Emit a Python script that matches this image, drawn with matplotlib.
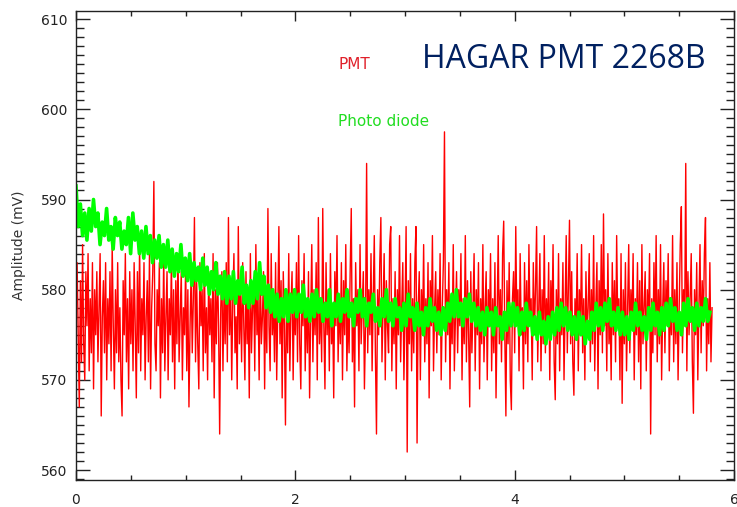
import numpy as np
import matplotlib
matplotlib.use("Agg")
import matplotlib.pyplot as plt
from matplotlib.ticker import MultipleLocator

# sample axis
t_start, t_end = 0.0, 5.8

# PMT amplitude (mV)
pmt = [
    578, 583, 575, 567, 581, 572, 585, 574, 570, 582,
    576, 584, 571, 579, 573, 583, 569, 580, 575, 582,
    572, 578, 584, 566, 577, 581, 573, 583, 570, 579,
    574, 582, 571, 585, 576, 569, 580, 573, 583, 572,
    578, 570, 566, 581, 575, 584, 572, 579, 569, 582,
    574, 580, 571, 583, 576, 568, 582, 573, 585, 571,
    579, 575, 583, 570, 577, 581, 572, 584, 569, 578,
    582, 592, 574, 571, 580, 576, 583, 568, 579, 573,
    584, 571, 577, 582, 570, 579, 575, 583, 572, 580,
    569, 581, 574, 584, 572, 577, 582, 570, 578, 575,
    583, 571, 580, 567, 576, 582, 573, 579, 588, 572,
    581, 574, 569, 583, 576, 580, 571, 584, 573, 578,
    570, 582, 575, 579, 572, 584, 568, 580, 574, 583,
    576, 564, 578, 582, 571, 580, 574, 583, 572, 588,
    575, 581, 570, 579, 584, 573, 577, 569, 587, 574,
    580, 572, 583, 576, 570, 582, 574, 579, 568, 584,
    573, 578, 581, 571, 585, 575, 579, 570, 583, 574,
    577, 582, 569, 580, 573, 589, 576, 571, 584, 575,
    579, 572, 583, 570, 578, 587, 574, 581, 568, 582,
    576, 565, 580, 573, 584, 571, 578, 582, 570, 579,
    575, 583, 572, 586, 574, 569, 581, 576, 584, 571,
    579, 573, 582, 568, 577, 585, 572, 580, 575, 583,
    570, 588, 574, 579, 572, 589, 576, 569, 583, 575,
    580, 571, 584, 574, 578, 568, 582, 576, 586, 572,
    579, 574, 583, 570, 581, 575, 585, 571, 578, 573,
    582, 589, 572, 579, 567, 583, 576, 580, 571, 585,
    574, 578, 582, 569, 576, 594, 573, 580, 575, 584,
    571, 579, 586, 573, 564, 580, 575, 583, 588, 572,
    578, 584, 570, 581, 576, 573, 585, 587, 571, 579,
    574, 582, 569, 580, 575, 586, 572, 578, 583, 570,
    577, 587, 562, 581, 574, 584, 571, 579, 573, 583,
    587, 563, 578, 582, 570, 580, 575, 585, 572, 579,
    574, 583, 568, 581, 576, 586, 571, 578, 582, 573,
    580, 575, 584, 570, 578, 583, 597.5, 572, 580, 575,
    583, 569, 579, 574, 585, 571, 577, 582, 573, 580,
    576, 584, 570, 579, 574, 586, 572, 581, 575, 567,
    582, 573, 578, 584, 571, 580, 575, 583, 569, 579,
    574, 585, 572, 578, 582, 570, 580, 576, 584, 571,
    579, 573, 583, 568, 577, 586, 574, 580, 572, 584,
    587.6, 575, 566, 581, 574, 583, 570, 566.7, 579, 582,
    573, 587, 576, 580, 571, 584, 575, 578, 569, 583,
    574, 581, 572, 585, 576, 579, 570, 583, 575, 580,
    587, 572, 578, 584, 571, 580, 574, 586, 573, 579,
    575, 583, 570, 581, 576, 585, 572, 567.8, 580, 574,
    584, 571, 579, 575, 583, 570, 578, 586, 573, 580,
    587.7, 574, 582, 572, 568.3, 579, 575, 584, 571, 580,
    576, 585, 573, 579, 570, 582, 575, 578, 584, 572,
    580, 574, 586, 571, 578, 583, 569, 581, 575, 585,
    573, 588.4, 576, 580, 571, 584, 574, 578, 570, 583,
    575, 581, 572, 586, 576, 579, 570, 584, 567.4, 580,
    574, 583, 571, 578, 585, 573, 580, 576, 584, 570,
    579, 575, 583, 572, 581, 569, 585, 574, 578, 582,
    571, 580, 576, 584, 564, 579, 573, 583, 575, 586,
    572, 580, 574, 585, 570, 578, 583, 573, 581, 576,
    584, 571, 579, 575, 586, 572, 580, 574, 583, 570,
    578, 585, 589.2, 573, 580, 576, 594, 571, 582, 575,
    579, 584, 572, 566.3, 580, 575, 583, 570, 578, 585,
    573, 581, 576, 584, 588, 571, 579, 574, 583, 572,
    578,
]

# photo diode amplitude (mV)
diode = [
    591.5, 587, 589.5, 586, 588.5, 585.5, 589, 586.5, 590, 587,
    588.5, 585, 587.5, 586, 589, 585.5, 587, 584.5, 588, 586,
    587.5, 584.5, 586.5, 585, 588, 584, 588.5, 585.5, 587, 584,
    586.5, 583.5, 587, 584, 586, 583, 585.5, 583.5, 586, 582.5,
    585, 582.5, 585.5, 582, 584.5, 581.5, 584, 582, 585, 581.5,
    583.5, 581, 584, 580.5, 583, 581, 582.5, 580, 583.5, 580.5,
    582.5, 579.5, 582, 580, 583, 579.5, 581.5, 579, 582, 578.5,
    581.5, 579, 582, 578.5, 581, 579.5, 582.5, 578.5, 580.5, 578,
    581, 578.5, 582, 579, 583, 579.5, 581.5, 578, 580.5, 577.5,
    580, 577, 579.5, 576.5, 579, 577, 580, 576.5, 579.5, 577.5,
    580, 577, 579.5, 577.5, 580.5, 577, 579, 576.5, 579.5, 577,
    580, 577.5, 579, 576.5, 578.5, 577, 580, 576, 578.5, 577,
    579.5, 576.5, 579, 577.5, 580, 577, 578.5, 576, 579, 577.5,
    580, 577, 579, 576, 578.5, 577.5, 579.5, 576.5, 578, 576,
    579, 577, 580, 576.5, 578.5, 576, 579, 577, 578, 575.5,
    578.5, 576, 579.5, 577, 578, 575.5, 578.5, 576, 577.5, 575,
    578, 576, 579, 576.5, 578, 575.5, 577.5, 575, 578, 575.5,
    578.5, 576.5, 579.5, 577, 580, 577, 578.5, 576, 579, 577,
    579.5, 576.5, 578.5, 576, 578, 575.5, 577.5, 575, 578, 576,
    577.5, 575, 578, 576, 577, 574.5, 577.5, 575.5, 578.5, 576,
    578.5, 576, 578, 575, 577.5, 575.5, 578.5, 576, 577.5, 575,
    577, 574.5, 577.5, 575, 576.5, 574, 577, 574.5, 577.5, 575,
    578, 575.5, 578.5, 576, 578, 575.5, 577.5, 575, 577, 574.5,
    577.5, 575, 577, 574, 576.5, 574.5, 577.5, 575.5, 578.5, 576,
    578, 575.5, 578.5, 576.5, 579, 576, 577.5, 575.5, 578, 575,
    577.5, 575, 577, 574.5, 577.5, 575.5, 578.5, 576, 577.5, 575.5,
    577, 574.5, 578, 575.5, 578.5, 576, 577.5, 575, 578, 575.5,
    578.5, 576, 579, 576.5, 578, 575.5, 577.5, 575, 578.5, 576,
    579, 576.5, 578, 575.5, 578.5, 576, 578, 576.5, 579, 576.5,
    577.5,
]

t_pmt = np.linspace(t_start, t_end, len(pmt))
t_diode = np.linspace(t_start, t_end - 0.02, len(diode))

fig = plt.figure(figsize=(7.37, 5.07), dpi=100)
ax = fig.add_axes([76 / 737, 27 / 507, 658 / 737, 469 / 507])

ax.plot(t_pmt, pmt, color="#ff0000", lw=1.0)
ax.plot(t_diode, diode, color="#00ff00", lw=2.6)

ax.set_xlim(0, 6)
ax.set_ylim(558.9, 610.9)
ax.xaxis.set_major_locator(MultipleLocator(2))
ax.xaxis.set_minor_locator(MultipleLocator(0.5))
ax.yaxis.set_major_locator(MultipleLocator(10))
ax.yaxis.set_minor_locator(MultipleLocator(1))

ax.tick_params(axis="both", which="both", direction="in", top=True, right=True,
               colors="#222222", labelsize=10, width=1.0)
ax.tick_params(axis="y", which="major", length=10, pad=6)
ax.tick_params(axis="y", which="minor", length=5.5)
ax.tick_params(axis="x", which="major", length=7, pad=9)
ax.tick_params(axis="x", which="minor", length=3.5)
for s in ax.spines.values():
    s.set_color("#222222")
    s.set_linewidth(1.0)

ax.set_ylabel("Amplitude (mV)", fontsize=10, color="#333333")
ax.yaxis.set_label_coords(-0.076, 0.5)

fig.text(339 / 737, 1 - 69 / 507, "PMT", color="#e0202a", fontsize=11, va="baseline")
fig.text(338 / 737, 1 - 126 / 507, "Photo diode", color="#22dd22", fontsize=11, va="baseline")
fig.text(422 / 737, 1 - 68 / 507, "HAGAR PMT 2268B", color="#002060", fontsize=23,
         family="Open Sans", va="baseline")

fig.savefig("out.png", dpi=100)
